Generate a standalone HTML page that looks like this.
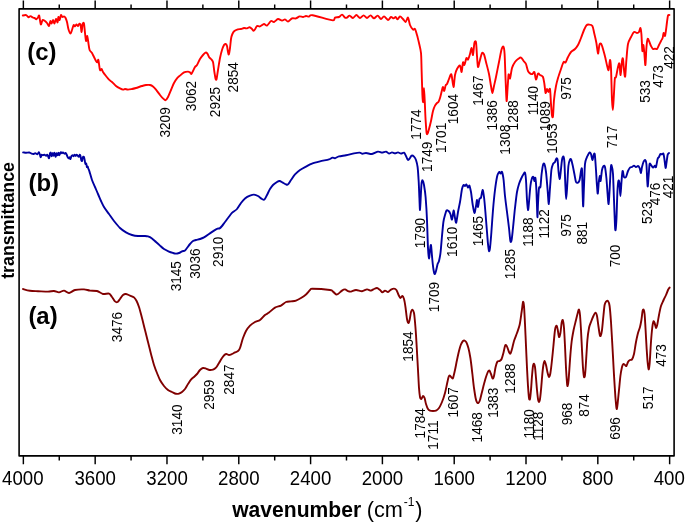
<!DOCTYPE html>
<html lang="en">
<head>
<meta charset="utf-8">
<title>FTIR spectra</title>
<style>
html,body{margin:0;padding:0;background:#ffffff;}
body{width:685px;height:522px;overflow:hidden;position:relative;font-family:"Liberation Sans",sans-serif;}
</style>
</head>
<body>
<svg width="685" height="522" viewBox="0 0 685 522" style="display:block;position:absolute;left:0;top:0">
<rect x="0" y="0" width="685" height="522" fill="#ffffff"/>
<path d="M23.36 8.85 V0.40 M23.36 455.90 V464.20 M59.26 8.85 V4.60 M59.26 455.90 V460.50 M95.17 8.85 V0.40 M95.17 455.90 V464.20 M131.07 8.85 V4.60 M131.07 455.90 V460.50 M166.98 8.85 V0.40 M166.98 455.90 V464.20 M202.88 8.85 V4.60 M202.88 455.90 V460.50 M238.78 8.85 V0.40 M238.78 455.90 V464.20 M274.69 8.85 V4.60 M274.69 455.90 V460.50 M310.59 8.85 V0.40 M310.59 455.90 V464.20 M346.49 8.85 V4.60 M346.49 455.90 V460.50 M382.40 8.85 V0.40 M382.40 455.90 V464.20 M418.30 8.85 V4.60 M418.30 455.90 V460.50 M454.21 8.85 V0.40 M454.21 455.90 V464.20 M490.11 8.85 V4.60 M490.11 455.90 V460.50 M526.01 8.85 V0.40 M526.01 455.90 V464.20 M561.92 8.85 V4.60 M561.92 455.90 V460.50 M597.82 8.85 V0.40 M597.82 455.90 V464.20 M633.72 8.85 V4.60 M633.72 455.90 V460.50 M669.63 8.85 V0.40 M669.63 455.90 V464.20" stroke="#000" stroke-width="1.45" fill="none"/>
<rect x="19.10" y="8.85" width="655.00" height="447.05" fill="none" stroke="#000" stroke-linejoin="round" stroke-width="1.60"/>
<path d="M22.8 15.5 C23.3 15.4 25.4 14.9 26.2 15.1 C27.0 15.3 27.8 17.1 28.4 17.2 C29.0 17.3 30.0 16.1 30.6 16.1 C31.2 16.1 32.2 17.2 32.8 17.5 C33.4 17.8 34.0 17.8 34.5 18.0 C35.0 18.2 35.8 19.3 36.3 19.2 C36.8 19.1 37.6 18.0 38.0 17.5 C38.4 17.0 38.8 14.6 39.2 15.6 C39.6 16.6 40.3 23.8 40.8 24.4 C41.3 25.0 42.0 20.5 42.6 20.0 C43.2 19.5 44.4 20.6 45.0 21.0 C45.6 21.4 46.4 22.3 47.0 23.0 C47.6 23.7 48.5 26.3 49.0 26.0 C49.5 25.7 50.0 21.3 50.4 21.0 C50.8 20.7 51.2 23.7 51.6 23.6 C52.0 23.5 52.6 20.0 53.0 20.0 C53.4 20.0 54.0 23.7 54.4 23.6 C54.8 23.5 55.5 19.2 56.0 19.0 C56.5 18.8 57.3 22.7 57.6 22.4 C57.9 22.1 58.1 17.3 58.4 17.0 C58.7 16.7 59.2 20.3 59.6 20.0 C60.0 19.7 60.6 15.4 61.0 15.0 C61.4 14.6 62.0 16.8 62.4 17.0 C62.8 17.2 63.5 16.3 64.0 16.4 C64.5 16.5 65.2 17.2 65.6 18.0 C66.0 18.8 66.6 20.4 67.0 22.0 C67.4 23.6 67.9 27.3 68.4 29.0 C68.9 30.7 69.9 33.5 70.4 33.6 C70.9 33.7 71.5 31.2 72.0 30.0 C72.5 28.8 73.2 25.5 73.6 25.0 C74.0 24.5 74.6 26.5 75.0 26.4 C75.4 26.3 76.0 24.5 76.4 24.4 C76.8 24.3 77.6 26.1 78.0 26.0 C78.4 25.9 79.0 23.7 79.4 23.6 C79.8 23.5 80.3 23.8 80.6 25.0 C80.9 26.2 81.3 32.1 81.6 32.0 C81.9 31.9 82.3 25.2 82.6 24.0 C82.9 22.8 83.7 22.3 84.0 23.6 C84.3 24.9 84.7 30.5 85.0 33.0 C85.3 35.5 85.7 40.6 86.0 41.0 C86.3 41.4 86.9 35.7 87.2 36.0 C87.5 36.3 88.1 41.0 88.4 43.0 C88.7 45.0 89.1 48.6 89.6 50.0 C90.1 51.4 91.4 52.0 92.0 53.0 C92.6 54.0 93.4 55.9 94.0 57.0 C94.6 58.1 95.5 60.2 96.0 61.0 C96.5 61.8 97.1 62.5 97.4 62.4 C97.7 62.3 98.0 58.9 98.4 60.0 C98.8 61.1 99.5 68.7 100.0 70.0 C100.5 71.3 101.2 68.7 101.6 69.0 C102.0 69.3 102.4 71.0 103.0 72.0 C103.6 73.0 105.1 74.9 106.0 76.0 C106.9 77.1 108.1 78.7 109.0 79.6 C109.9 80.5 111.0 81.1 112.0 82.0 C113.0 82.9 114.9 85.1 116.0 86.0 C117.1 86.9 119.0 87.9 120.0 88.4 C121.0 88.9 122.3 89.5 123.0 89.6 C123.7 89.7 124.3 89.0 125.0 89.0 C125.7 89.0 127.0 89.6 128.0 89.6 C129.0 89.6 130.9 89.2 132.0 89.0 C133.1 88.8 134.6 88.4 136.0 88.0 C137.4 87.6 140.6 86.4 142.0 86.0 C143.4 85.6 144.9 85.1 146.0 85.0 C147.1 84.9 149.0 84.8 150.0 85.0 C151.0 85.2 152.1 85.7 153.0 86.4 C153.9 87.1 155.0 88.4 156.0 89.6 C157.0 90.8 159.0 93.7 160.0 95.0 C161.0 96.3 162.2 97.7 163.0 98.4 C163.8 99.1 164.9 100.4 165.6 100.2 C166.3 100.0 167.2 98.5 168.0 97.0 C168.8 95.5 170.1 92.0 171.0 90.0 C171.9 88.0 173.1 84.7 174.0 83.0 C174.9 81.3 176.1 79.5 177.0 78.4 C177.9 77.3 179.0 76.5 180.0 75.6 C181.0 74.7 182.9 73.0 184.0 72.4 C185.1 71.8 187.1 71.6 188.0 71.6 C188.9 71.6 189.5 72.1 190.0 72.4 C190.5 72.7 191.0 74.2 191.4 74.0 C191.8 73.8 192.5 72.0 193.0 71.0 C193.5 70.0 194.4 67.9 195.0 67.0 C195.6 66.1 196.3 66.1 197.0 65.0 C197.7 63.9 199.1 60.4 200.0 59.0 C200.9 57.6 202.2 55.9 203.0 55.0 C203.8 54.1 205.0 52.8 205.6 52.6 C206.2 52.4 206.9 53.0 207.4 53.6 C207.9 54.2 208.5 56.2 209.0 57.0 C209.5 57.8 210.4 58.3 211.0 59.0 C211.6 59.7 212.5 60.1 213.0 62.0 C213.5 63.9 214.0 69.6 214.4 72.0 C214.8 74.4 215.3 78.0 215.6 79.0 C215.9 80.0 216.3 80.3 216.6 79.0 C216.9 77.7 217.5 73.0 218.0 70.0 C218.5 67.0 219.4 60.9 220.0 58.0 C220.6 55.1 221.4 51.9 222.0 50.0 C222.6 48.1 223.5 45.9 224.0 45.0 C224.5 44.1 225.2 43.9 225.6 44.0 C226.0 44.1 226.7 44.9 227.0 46.0 C227.3 47.1 227.7 50.8 228.0 52.0 C228.3 53.2 228.5 55.0 228.8 54.4 C229.1 53.8 229.7 50.2 230.0 48.0 C230.3 45.8 230.7 41.0 231.0 39.0 C231.3 37.0 231.9 35.1 232.4 34.0 C232.9 32.9 233.6 31.7 234.4 31.0 C235.2 30.3 237.1 29.7 238.0 29.4 C238.9 29.1 240.1 29.2 241.0 29.0 C241.9 28.8 243.1 28.1 244.0 28.0 C244.9 27.9 246.2 28.5 247.0 28.4 C247.8 28.3 248.9 27.1 249.6 27.2 C250.3 27.3 251.4 28.5 252.0 29.0 C252.6 29.5 253.1 30.8 253.6 30.8 C254.1 30.8 254.7 29.7 255.2 29.0 C255.7 28.3 256.3 26.4 257.0 26.0 C257.7 25.6 259.0 26.7 260.0 26.4 C261.0 26.1 263.0 24.1 264.0 24.0 C265.0 23.9 266.0 26.0 267.0 25.6 C268.0 25.2 270.0 21.5 271.0 21.0 C272.0 20.5 273.0 22.3 274.0 22.0 C275.0 21.7 276.9 19.2 278.0 19.0 C279.1 18.8 281.0 20.5 282.0 20.6 C283.0 20.7 284.1 19.3 285.0 19.4 C285.9 19.5 287.0 21.7 288.0 21.6 C289.0 21.5 290.9 18.9 292.0 18.4 C293.1 17.9 294.9 18.7 296.0 18.4 C297.1 18.1 298.6 16.6 299.6 16.4 C300.6 16.2 302.1 17.1 303.0 17.0 C303.9 16.9 305.1 16.1 306.0 16.0 C306.9 15.9 308.1 16.7 309.0 16.6 C309.9 16.5 309.2 14.7 312.6 15.2 C316.0 15.7 329.8 20.1 333.0 20.4 C335.0 20.7 334.1 18.1 335.0 17.6 C335.9 17.1 338.0 17.4 339.0 17.0 C340.0 16.6 341.1 14.5 342.0 14.6 C342.9 14.7 344.3 17.2 345.0 17.6 C345.7 18.0 346.3 17.9 347.0 17.6 C347.7 17.3 348.7 15.5 349.6 15.6 C350.5 15.7 352.0 18.1 353.0 18.0 C354.0 17.9 355.4 15.0 356.4 15.0 C357.4 15.0 359.0 17.9 360.0 18.0 C361.0 18.1 362.6 15.4 363.6 15.4 C364.6 15.4 366.0 18.0 367.0 18.0 C368.0 18.0 369.6 15.3 370.6 15.4 C371.6 15.5 373.0 18.4 374.0 18.4 C375.0 18.4 376.6 15.5 377.6 15.6 C378.6 15.7 380.1 18.9 381.0 19.0 C381.9 19.1 383.0 16.3 384.0 16.4 C385.0 16.5 387.0 19.9 388.0 20.0 C389.0 20.1 390.2 17.2 391.0 17.0 C391.8 16.8 392.9 18.4 393.6 18.4 C394.3 18.4 395.0 16.9 395.6 17.0 C396.2 17.1 397.0 19.5 397.6 19.4 C398.2 19.3 399.2 16.5 400.0 16.4 C400.8 16.3 402.2 18.2 403.0 19.0 C403.8 19.8 404.9 22.2 405.6 22.0 C406.3 21.8 407.4 17.2 408.0 17.6 C408.6 18.0 409.3 23.3 410.0 25.0 C410.7 26.7 412.3 29.0 413.0 29.6 C413.7 30.2 414.4 28.2 415.0 29.0 C415.6 29.8 416.4 33.0 417.0 35.0 C417.6 37.0 418.4 40.4 419.0 43.0 C419.6 45.6 420.6 49.1 421.0 53.0 C421.4 56.9 421.4 64.0 421.6 70.0 C421.8 76.0 422.2 90.4 422.4 95.0 C422.6 99.6 423.0 103.0 423.2 102.0 C423.4 101.0 423.8 88.0 424.0 88.0 C424.2 88.0 424.6 97.4 424.8 102.0 C425.0 106.6 425.3 115.6 425.6 120.0 C425.9 124.4 426.3 131.1 426.6 133.0 C426.9 134.9 427.3 134.2 427.6 133.6 C427.9 133.0 428.5 130.8 429.0 129.0 C429.5 127.2 430.4 123.6 431.0 121.0 C431.6 118.4 432.4 113.2 433.0 111.0 C433.6 108.8 434.4 106.7 435.0 105.6 C435.6 104.5 436.5 103.5 437.0 103.0 C437.5 102.5 438.0 102.7 438.4 102.0 C438.8 101.3 439.5 99.7 440.0 98.0 C440.5 96.3 441.6 91.6 442.0 90.0 C442.4 88.4 442.7 86.9 443.0 87.0 C443.3 87.1 443.8 91.2 444.2 91.0 C444.6 90.8 445.2 86.5 445.6 85.5 C446.0 84.5 446.5 84.9 447.0 84.0 C447.5 83.1 448.4 80.4 449.0 79.0 C449.6 77.6 450.8 73.3 451.4 74.4 C452.0 75.5 453.0 86.9 453.5 87.0 C454.0 87.1 454.5 77.6 455.0 75.0 C455.5 72.4 456.3 70.3 457.0 69.0 C457.7 67.7 459.3 65.2 460.0 65.6 C460.7 66.0 461.2 72.5 461.6 72.0 C462.0 71.5 462.6 63.4 463.0 62.4 C463.4 61.4 463.9 65.6 464.4 65.0 C464.9 64.4 465.9 58.8 466.4 58.0 C466.9 57.2 467.5 60.2 468.0 59.6 C468.5 59.0 469.5 55.7 470.0 54.0 C470.5 52.3 471.2 47.9 471.6 48.0 C472.0 48.1 472.6 55.7 473.0 55.0 C473.4 54.3 474.0 44.8 474.4 43.0 C474.8 41.2 475.6 40.5 476.0 42.4 C476.4 44.3 476.7 52.5 477.0 56.0 C477.3 59.5 477.6 66.4 478.0 67.0 C478.4 67.6 479.4 62.0 480.0 60.0 C480.6 58.0 481.4 53.8 482.0 53.0 C482.6 52.2 483.4 53.1 484.0 54.4 C484.6 55.7 485.3 59.2 486.0 62.0 C486.7 64.8 488.3 70.6 489.0 74.0 C489.7 77.4 490.5 83.3 491.0 86.0 C491.5 88.7 492.0 93.0 492.4 93.0 C492.8 93.0 493.5 88.3 494.0 86.0 C494.5 83.7 495.3 80.4 496.0 77.0 C496.7 73.6 498.2 65.9 499.0 62.0 C499.8 58.1 500.8 52.2 501.4 50.0 C502.0 47.8 502.9 46.0 503.4 46.6 C503.9 47.2 504.3 49.2 504.6 54.0 C504.9 58.8 505.3 73.3 505.6 80.0 C505.9 86.7 506.3 99.9 506.6 101.0 C506.9 102.1 507.3 91.8 507.6 88.0 C507.9 84.2 508.3 75.9 508.6 74.5 C508.9 73.1 509.5 79.4 510.0 78.5 C510.5 77.6 511.3 70.4 512.0 68.0 C512.7 65.6 514.1 63.3 515.0 62.0 C515.9 60.7 517.1 59.6 518.0 59.0 C518.9 58.4 520.2 57.3 521.0 57.6 C521.8 57.9 522.9 60.1 523.6 61.0 C524.3 61.9 525.4 62.6 526.0 64.0 C526.6 65.4 527.4 69.7 528.0 71.0 C528.6 72.3 529.4 73.0 530.0 73.4 C530.6 73.8 531.8 74.2 532.4 74.0 C533.0 73.8 533.9 71.2 534.4 72.0 C534.9 72.8 535.5 79.4 536.0 79.6 C536.5 79.8 537.4 74.3 538.0 73.6 C538.6 72.9 539.3 74.5 540.0 75.0 C540.7 75.5 542.4 75.7 543.0 77.0 C543.6 78.3 544.0 81.7 544.4 84.0 C544.8 86.3 545.2 92.3 545.6 93.0 C546.0 93.7 546.6 89.1 547.0 89.0 C547.4 88.9 548.0 92.0 548.4 92.0 C548.8 92.0 549.6 87.3 550.0 89.0 C550.4 90.7 550.7 100.2 551.0 104.0 C551.3 107.8 551.7 113.9 552.0 115.6 C552.3 117.3 552.7 118.2 553.0 116.0 C553.3 113.8 553.6 104.3 554.0 100.0 C554.4 95.7 555.4 89.1 556.0 86.0 C556.6 82.9 557.3 80.4 558.0 78.0 C558.7 75.6 560.2 71.3 561.0 69.0 C561.8 66.7 562.9 62.9 563.6 62.0 C564.3 61.1 565.0 63.1 565.6 62.4 C566.2 61.7 567.2 58.5 568.0 57.0 C568.8 55.5 570.0 53.1 571.0 52.0 C572.0 50.9 574.0 50.0 575.0 49.0 C576.0 48.0 577.1 46.6 578.0 45.0 C578.9 43.4 580.1 40.1 581.0 38.0 C581.9 35.9 583.2 31.8 584.0 30.0 C584.8 28.2 585.7 26.2 586.4 25.4 C587.1 24.6 588.1 24.5 589.0 24.6 C589.9 24.7 591.6 24.7 592.4 26.0 C593.2 27.3 593.8 31.6 594.4 34.0 C595.0 36.4 595.9 40.2 596.4 43.0 C596.9 45.8 597.6 53.3 598.0 53.6 C598.4 53.9 599.0 46.4 599.4 45.0 C599.8 43.6 600.5 43.0 601.0 43.6 C601.5 44.2 602.4 46.9 603.0 49.0 C603.6 51.1 604.8 55.4 605.4 58.0 C606.0 60.6 606.9 65.3 607.4 67.0 C607.9 68.7 608.2 71.0 608.6 70.0 C609.0 69.0 609.7 60.3 610.0 60.0 C610.3 59.7 610.7 62.3 611.0 68.0 C611.3 73.7 611.7 94.0 612.0 100.0 C612.3 106.0 612.6 110.0 612.8 110.0 C613.0 110.0 613.3 104.4 613.6 100.0 C613.9 95.6 614.5 82.3 614.8 79.0 C615.1 75.7 615.5 78.7 616.0 77.0 C616.5 75.3 617.5 68.9 618.0 67.0 C618.5 65.1 619.0 62.5 619.4 63.6 C619.8 64.7 620.2 75.4 620.6 75.0 C621.0 74.6 621.7 63.3 622.0 61.0 C622.3 58.7 622.7 57.4 623.0 59.0 C623.3 60.6 623.9 69.5 624.2 72.0 C624.5 74.5 624.9 78.1 625.2 76.4 C625.5 74.7 626.0 64.6 626.4 60.0 C626.8 55.4 627.3 47.3 628.0 44.0 C628.7 40.7 630.1 38.7 631.0 37.0 C631.9 35.3 633.1 32.6 634.0 32.0 C634.9 31.4 636.3 33.0 637.0 33.0 C637.7 33.0 638.5 32.7 639.0 32.0 C639.5 31.3 640.1 27.7 640.4 28.0 C640.7 28.3 641.1 30.7 641.4 34.0 C641.7 37.3 642.1 49.4 642.4 51.0 C642.7 52.6 643.1 44.6 643.4 45.0 C643.7 45.4 644.1 51.1 644.4 54.0 C644.7 56.9 645.1 65.9 645.4 65.0 C645.7 64.1 646.1 51.7 646.4 48.0 C646.7 44.3 647.2 40.0 647.6 39.0 C648.0 38.0 648.5 40.0 649.0 41.0 C649.5 42.0 650.4 44.9 651.0 46.0 C651.6 47.1 652.4 48.6 653.0 49.0 C653.6 49.4 654.4 48.6 655.0 48.6 C655.6 48.6 656.4 49.5 657.0 49.0 C657.6 48.5 658.4 46.1 659.0 45.0 C659.6 43.9 660.5 42.0 661.0 41.0 C661.5 40.0 662.2 39.1 662.6 38.0 C663.0 36.9 663.3 33.3 663.6 33.0 C663.9 32.7 664.7 36.4 665.0 36.0 C665.3 35.6 665.7 32.0 666.0 30.0 C666.3 28.0 666.7 24.1 667.0 22.0 C667.3 19.9 667.7 16.6 668.0 15.6 C668.3 14.6 669.2 15.1 669.4 15.0" fill="none" stroke="#ff0000" stroke-width="1.9" stroke-linejoin="round" stroke-linecap="round"/>
<path d="M23.1 152.4 C23.5 152.4 25.2 152.7 26.1 152.7 C27.0 152.7 28.5 152.4 29.2 152.5 C29.9 152.6 30.6 153.2 31.2 153.4 C31.8 153.6 32.7 154.0 33.3 154.0 C33.9 154.0 34.7 153.2 35.3 153.2 C35.9 153.2 36.9 154.3 37.4 154.2 C37.9 154.1 38.5 152.1 38.9 152.2 C39.3 152.3 39.6 154.0 39.9 154.7 C40.2 155.4 40.4 157.3 40.7 157.3 C41.0 157.3 41.4 155.0 41.7 154.7 C42.0 154.4 42.6 155.2 43.0 155.2 C43.4 155.2 44.1 154.6 44.5 154.7 C44.9 154.8 45.7 155.7 46.1 155.7 C46.5 155.7 46.8 154.6 47.1 154.7 C47.4 154.8 47.8 155.7 48.1 156.2 C48.4 156.7 48.8 158.7 49.1 158.3 C49.4 157.9 49.7 154.5 49.9 153.7 C50.1 152.9 50.5 152.3 50.7 152.7 C50.9 153.1 51.2 156.1 51.5 156.2 C51.8 156.3 52.2 153.3 52.5 153.2 C52.8 153.1 53.2 155.8 53.5 155.7 C53.8 155.6 54.2 152.5 54.5 152.7 C54.8 152.9 55.3 156.7 55.6 156.8 C55.9 156.9 56.3 153.4 56.6 153.2 C56.9 153.0 57.3 155.3 57.6 155.2 C57.9 155.1 58.4 152.7 58.6 152.7 C58.8 152.7 59.0 155.3 59.3 155.2 C59.6 155.1 60.3 152.5 60.7 152.2 C61.1 151.9 61.6 153.2 61.9 153.2 C62.2 153.2 62.5 152.3 62.9 152.4 C63.3 152.5 64.1 153.6 64.5 153.7 C64.9 153.8 65.2 152.9 65.5 153.0 C65.8 153.1 66.2 153.7 66.5 154.2 C66.8 154.7 67.2 156.2 67.5 156.8 C67.8 157.4 68.2 158.2 68.5 158.3 C68.8 158.4 69.3 157.2 69.6 157.3 C69.9 157.4 70.1 159.3 70.4 159.1 C70.7 158.9 71.1 156.8 71.4 156.2 C71.7 155.6 72.3 155.2 72.6 155.2 C72.9 155.2 73.3 156.3 73.6 156.2 C73.9 156.1 74.4 154.7 74.7 154.7 C75.0 154.7 75.4 156.0 75.7 156.0 C76.0 156.0 76.4 154.7 76.7 154.7 C77.0 154.7 77.4 155.4 77.7 155.7 C78.0 156.0 78.5 156.9 78.8 156.8 C79.1 156.7 79.6 154.8 79.8 154.7 C80.0 154.6 80.3 155.4 80.5 156.2 C80.7 157.0 81.1 159.6 81.3 160.3 C81.5 161.0 81.9 161.2 82.1 160.8 C82.3 160.4 82.5 157.9 82.8 157.3 C83.1 156.7 83.6 156.4 83.9 156.8 C84.2 157.2 84.5 159.3 84.7 160.3 C84.9 161.3 85.2 163.5 85.4 163.9 C85.6 164.3 86.0 163.0 86.2 163.4 C86.4 163.8 86.7 166.6 86.9 167.0 C87.1 167.4 87.5 166.2 87.7 166.5 C87.9 166.8 88.2 168.3 88.5 169.0 C88.8 169.7 89.0 170.0 89.5 171.6 C90.0 173.2 91.2 177.8 92.0 180.0 C92.8 182.2 94.1 185.0 95.0 187.0 C95.9 189.0 97.1 192.0 98.0 194.0 C98.9 196.0 100.1 199.1 101.0 201.0 C101.9 202.9 102.9 205.1 104.0 207.0 C105.1 208.9 107.6 212.0 109.0 214.0 C110.4 216.0 112.4 219.0 114.0 221.0 C115.6 223.0 118.3 226.4 120.0 228.0 C121.7 229.6 124.3 231.4 126.0 232.4 C127.7 233.4 130.3 234.5 132.0 235.0 C133.7 235.5 136.3 235.9 138.0 236.0 C139.7 236.1 142.6 235.9 144.0 236.0 C145.4 236.1 146.9 236.1 148.0 236.4 C149.1 236.7 150.9 237.6 152.0 238.4 C153.1 239.2 154.9 241.0 156.0 242.0 C157.1 243.0 158.9 244.6 160.0 245.6 C161.1 246.6 162.7 248.1 164.0 249.0 C165.3 249.9 167.7 251.0 169.0 251.6 C170.3 252.2 172.0 252.7 173.0 253.0 C174.0 253.3 175.1 253.6 176.0 253.6 C176.9 253.6 178.1 253.3 179.0 253.0 C179.9 252.7 181.1 251.8 182.0 251.4 C182.9 251.0 184.3 250.9 185.0 250.4 C185.7 249.9 186.3 248.9 187.0 248.0 C187.7 247.1 189.1 245.0 190.0 244.0 C190.9 243.0 192.1 241.6 193.0 241.0 C193.9 240.4 195.0 240.3 196.0 240.0 C197.0 239.7 198.9 239.4 200.0 239.0 C201.1 238.6 202.7 238.1 204.0 237.4 C205.3 236.7 207.6 235.0 209.0 234.0 C210.4 233.0 212.8 231.4 214.0 230.6 C215.2 229.8 216.8 228.9 217.6 228.6 C218.4 228.3 219.0 228.8 219.6 228.4 C220.2 228.0 221.2 226.9 222.0 226.0 C222.8 225.1 224.1 223.1 225.0 222.0 C225.9 220.9 227.1 219.1 228.0 218.0 C228.9 216.9 230.3 214.9 231.0 214.0 C231.7 213.1 232.1 212.7 233.0 212.0 C233.9 211.3 235.9 210.3 237.0 209.0 C238.1 207.7 239.9 204.5 241.0 203.0 C242.1 201.5 243.7 199.5 245.0 198.4 C246.3 197.3 248.7 196.1 250.0 195.6 C251.3 195.1 252.9 194.5 254.0 194.6 C255.1 194.7 256.9 195.4 258.0 196.0 C259.1 196.6 261.1 198.5 262.0 199.0 C262.9 199.5 263.7 200.2 264.4 199.6 C265.1 199.0 266.2 196.5 267.0 195.0 C267.8 193.5 269.1 190.4 270.0 189.0 C270.9 187.6 272.0 186.0 273.0 185.0 C274.0 184.0 276.1 182.6 277.0 182.0 C277.9 181.4 278.8 180.9 279.6 181.0 C280.4 181.1 281.5 181.9 282.4 182.4 C283.3 182.9 285.2 184.1 286.0 184.4 C286.8 184.7 287.3 185.0 288.0 184.4 C288.7 183.8 290.0 181.4 291.0 180.0 C292.0 178.6 293.7 175.8 295.0 174.4 C296.3 173.0 298.4 171.1 300.0 170.0 C301.6 168.9 304.3 167.5 306.0 166.6 C307.7 165.7 310.0 164.3 312.0 163.6 C314.0 162.9 317.6 162.0 320.0 161.4 C322.4 160.8 327.2 159.9 329.0 159.4 C330.8 158.9 331.5 157.8 332.4 157.6 C333.3 157.4 334.1 158.4 335.0 158.2 C335.9 158.0 337.4 156.8 339.0 156.4 C340.6 156.0 343.9 155.6 346.0 155.2 C348.1 154.8 352.1 153.8 354.0 153.4 C355.9 153.0 358.4 152.5 359.6 152.6 C360.8 152.7 361.5 153.7 362.4 153.8 C363.3 153.9 364.6 153.0 366.0 153.0 C367.4 153.0 370.3 154.2 372.0 154.0 C373.7 153.8 376.6 151.8 378.0 151.6 C379.4 151.4 380.9 152.6 382.0 152.6 C383.1 152.6 385.0 151.5 386.0 151.6 C387.0 151.7 388.1 153.5 389.0 153.6 C389.9 153.7 391.1 152.4 392.0 152.4 C392.9 152.4 394.1 153.4 395.0 153.4 C395.9 153.4 397.1 152.4 398.0 152.4 C398.9 152.4 400.1 153.6 401.0 153.6 C401.9 153.6 403.3 152.3 404.0 152.6 C404.7 152.9 405.4 154.9 406.0 156.0 C406.6 157.1 407.4 159.7 408.0 160.0 C408.6 160.3 409.5 158.6 410.0 158.0 C410.5 157.4 411.0 155.8 411.6 155.6 C412.2 155.4 413.4 156.0 414.0 156.6 C414.6 157.2 415.5 158.5 416.0 160.0 C416.5 161.5 417.2 164.1 417.6 167.0 C418.0 169.9 418.3 175.6 418.6 180.0 C418.9 184.4 419.2 193.7 419.4 198.0 C419.6 202.3 419.8 210.3 420.0 210.0 C420.2 209.7 420.6 199.9 420.8 196.0 C421.0 192.1 421.3 185.2 421.6 183.0 C421.9 180.8 422.3 180.1 422.6 180.4 C422.9 180.7 423.6 182.6 424.0 185.0 C424.4 187.4 425.2 192.0 425.6 197.0 C426.0 202.0 426.7 212.7 427.0 220.0 C427.3 227.3 427.7 242.5 428.0 248.0 C428.3 253.5 428.7 258.1 429.0 258.4 C429.3 258.7 429.7 251.9 430.0 250.0 C430.3 248.1 430.7 244.1 431.0 245.0 C431.3 245.9 431.7 252.6 432.0 256.0 C432.3 259.4 433.0 266.4 433.4 269.0 C433.8 271.6 434.2 273.7 434.6 274.0 C435.0 274.3 435.6 272.4 436.0 271.0 C436.4 269.6 437.2 265.4 437.6 264.0 C438.0 262.6 438.6 262.7 439.0 261.0 C439.4 259.3 440.2 255.6 440.6 252.0 C441.0 248.4 441.6 240.3 442.0 236.0 C442.4 231.7 443.0 225.0 443.4 222.0 C443.8 219.0 444.5 216.7 445.0 215.0 C445.5 213.3 446.1 211.0 446.6 210.4 C447.1 209.8 448.1 210.5 448.6 211.0 C449.1 211.5 449.9 212.8 450.4 214.0 C450.9 215.2 451.5 220.1 452.0 219.6 C452.5 219.1 453.2 210.6 453.6 210.4 C454.0 210.2 454.6 216.3 455.0 218.0 C455.4 219.7 455.8 223.5 456.2 222.6 C456.6 221.7 457.5 214.9 458.0 212.0 C458.5 209.1 459.4 205.3 460.0 202.0 C460.6 198.7 461.5 191.4 462.0 189.0 C462.5 186.6 463.2 185.4 463.6 185.0 C464.0 184.6 464.6 186.1 465.0 186.0 C465.4 185.9 466.0 184.2 466.4 184.4 C466.8 184.6 467.6 187.4 468.0 187.6 C468.4 187.8 469.0 185.0 469.4 185.6 C469.8 186.2 470.5 189.4 471.0 192.0 C471.5 194.6 472.1 201.0 472.6 204.0 C473.1 207.0 473.9 212.7 474.4 213.0 C474.9 213.3 475.6 207.9 476.0 206.0 C476.4 204.1 476.7 199.9 477.0 200.0 C477.3 200.1 477.7 207.1 478.0 207.0 C478.3 206.9 479.0 200.3 479.4 199.0 C479.8 197.7 480.5 198.9 481.0 197.6 C481.5 196.3 482.2 190.1 482.6 190.0 C483.0 189.9 483.6 193.9 484.0 197.0 C484.4 200.1 485.0 207.0 485.4 212.0 C485.8 217.0 486.6 227.4 487.0 232.0 C487.4 236.6 487.7 241.3 488.0 244.0 C488.3 246.7 488.7 250.4 489.0 251.0 C489.3 251.6 489.7 250.7 490.0 248.0 C490.3 245.3 491.0 237.4 491.4 232.0 C491.8 226.6 492.5 216.0 493.0 210.0 C493.5 204.0 494.4 194.7 495.0 190.0 C495.6 185.3 496.5 179.4 497.0 177.0 C497.5 174.6 498.1 173.7 498.4 173.0 C498.7 172.3 499.1 171.9 499.4 172.0 C499.7 172.1 500.2 173.6 500.6 173.6 C501.0 173.6 501.6 171.1 502.0 172.0 C502.4 172.9 503.2 176.6 503.6 180.0 C504.0 183.4 504.5 191.4 505.0 196.0 C505.5 200.6 506.4 207.4 507.0 212.0 C507.6 216.6 508.5 223.9 509.0 228.0 C509.5 232.1 510.0 239.3 510.4 241.0 C510.8 242.7 511.2 241.9 511.6 240.0 C512.0 238.1 512.5 232.6 513.0 228.0 C513.5 223.4 514.4 213.1 515.0 208.0 C515.6 202.9 516.4 195.4 517.0 192.0 C517.6 188.6 518.4 185.9 519.0 184.0 C519.6 182.1 520.4 180.3 521.0 179.0 C521.6 177.7 522.4 175.9 523.0 175.0 C523.6 174.1 524.6 171.9 525.0 172.6 C525.4 173.3 525.7 176.1 526.0 180.0 C526.3 183.9 526.7 195.7 527.0 200.0 C527.3 204.3 527.7 209.7 528.0 210.0 C528.3 210.3 528.7 205.4 529.0 202.0 C529.3 198.6 530.0 189.4 530.4 186.0 C530.8 182.6 531.6 179.3 532.0 178.0 C532.4 176.7 533.1 176.6 533.4 177.0 C533.7 177.4 534.1 180.9 534.4 181.0 C534.7 181.1 535.1 176.7 535.4 178.0 C535.7 179.3 536.1 184.4 536.4 190.0 C536.7 195.6 537.2 215.0 537.4 217.0 C537.6 219.0 537.8 208.1 538.0 204.0 C538.2 199.9 538.7 190.4 539.0 188.0 C539.3 185.6 540.0 189.0 540.4 187.0 C540.8 185.0 541.2 177.1 541.6 174.0 C542.0 170.9 542.6 166.4 543.0 165.0 C543.4 163.6 544.0 163.0 544.4 164.0 C544.8 165.0 545.5 168.3 546.0 172.0 C546.5 175.7 547.2 185.4 547.6 190.0 C548.0 194.6 548.5 204.3 548.8 204.0 C549.1 203.7 549.6 192.9 550.0 188.0 C550.4 183.1 551.0 173.4 551.4 170.0 C551.8 166.6 552.5 165.1 553.0 164.0 C553.5 162.9 554.5 162.8 555.0 162.0 C555.5 161.2 556.0 158.7 556.4 158.4 C556.8 158.1 557.3 158.1 557.6 160.0 C557.9 161.9 558.3 169.3 558.6 172.0 C558.9 174.7 559.3 178.9 559.6 179.0 C559.9 179.1 560.3 175.7 560.6 173.0 C560.9 170.3 561.6 162.4 562.0 160.0 C562.4 157.6 563.1 156.1 563.4 156.4 C563.7 156.7 564.1 157.8 564.4 162.0 C564.7 166.2 565.1 180.7 565.4 186.0 C565.7 191.3 565.9 199.0 566.2 199.0 C566.5 199.0 566.9 190.7 567.2 186.0 C567.5 181.3 568.0 169.8 568.4 166.0 C568.8 162.2 569.6 160.5 570.0 159.6 C570.4 158.7 570.8 158.8 571.2 159.6 C571.6 160.4 572.1 162.9 572.6 165.0 C573.1 167.1 573.9 171.6 574.4 174.0 C574.9 176.4 575.5 180.8 576.0 182.0 C576.5 183.2 577.5 182.9 578.0 182.6 C578.5 182.3 579.2 181.7 579.6 180.0 C580.0 178.3 580.7 172.5 581.0 171.0 C581.3 169.5 581.8 166.6 582.0 169.6 C582.2 172.6 582.4 186.7 582.6 192.0 C582.8 197.3 583.0 207.3 583.2 206.4 C583.4 205.5 583.7 192.1 584.0 186.0 C584.3 179.9 584.6 168.0 585.0 164.0 C585.4 160.0 586.2 159.3 586.6 158.0 C587.0 156.7 587.6 155.8 588.0 155.0 C588.4 154.2 589.2 152.5 589.6 152.4 C590.0 152.3 590.6 152.9 591.0 154.0 C591.4 155.1 592.0 159.9 592.4 160.0 C592.8 160.1 593.3 155.8 593.6 155.0 C593.9 154.2 594.5 152.3 594.8 154.4 C595.1 156.5 595.7 165.5 596.0 170.0 C596.3 174.5 596.7 182.6 597.0 186.0 C597.3 189.4 597.5 194.2 597.8 193.6 C598.1 193.0 598.5 184.5 598.8 182.0 C599.1 179.5 599.5 176.1 599.8 176.0 C600.1 175.9 600.3 181.9 600.6 181.0 C600.9 180.1 601.6 172.1 602.0 170.0 C602.4 167.9 603.2 166.4 603.6 166.0 C604.0 165.6 604.6 165.3 605.0 167.0 C605.4 168.7 606.0 174.1 606.4 178.0 C606.8 181.9 607.3 190.3 607.6 194.0 C607.9 197.7 608.3 204.6 608.6 204.0 C608.9 203.4 609.3 195.1 609.6 190.0 C609.9 184.9 610.5 171.5 610.8 168.0 C611.1 164.5 611.3 164.7 611.6 165.6 C611.9 166.5 612.7 169.1 613.0 174.0 C613.3 178.9 613.7 192.6 614.0 200.0 C614.3 207.4 614.8 221.7 615.0 226.0 C615.2 230.3 615.4 230.9 615.6 230.0 C615.8 229.1 616.1 225.4 616.4 220.0 C616.7 214.6 617.1 197.6 617.4 192.0 C617.7 186.4 618.1 182.3 618.4 181.0 C618.7 179.7 619.1 180.9 619.4 183.0 C619.7 185.1 620.1 196.0 620.4 196.0 C620.7 196.0 621.1 186.6 621.4 183.0 C621.7 179.4 622.2 171.9 622.6 171.0 C623.0 170.1 623.5 176.1 624.0 177.0 C624.5 177.9 625.4 177.9 626.0 177.0 C626.6 176.1 627.4 172.3 628.0 171.0 C628.6 169.7 629.4 168.2 630.0 167.6 C630.6 167.0 631.4 167.3 632.0 167.0 C632.6 166.7 633.4 165.6 634.0 165.6 C634.6 165.6 635.4 166.9 636.0 167.0 C636.6 167.1 637.5 165.9 638.0 166.0 C638.5 166.1 639.2 167.0 639.6 168.0 C640.0 169.0 640.7 173.1 641.0 173.0 C641.3 172.9 641.6 168.6 642.0 167.0 C642.4 165.4 643.1 162.6 643.6 161.6 C644.1 160.6 644.8 159.7 645.2 160.0 C645.6 160.3 646.1 161.1 646.4 164.0 C646.7 166.9 647.0 176.8 647.2 180.0 C647.4 183.2 647.6 187.0 647.8 186.4 C648.0 185.8 648.3 179.2 648.6 176.0 C648.9 172.8 649.3 165.6 649.6 164.0 C649.9 162.4 650.5 164.5 651.0 165.0 C651.5 165.5 652.4 167.5 653.0 167.6 C653.6 167.7 654.6 165.7 655.0 165.6 C655.4 165.5 655.6 167.9 656.0 167.0 C656.4 166.1 657.2 160.4 657.6 159.0 C658.0 157.6 658.6 157.7 659.0 157.0 C659.4 156.3 660.0 154.4 660.4 154.0 C660.8 153.6 661.6 154.5 662.0 154.4 C662.4 154.3 663.1 152.9 663.4 153.6 C663.7 154.3 664.1 156.9 664.4 159.0 C664.7 161.1 665.3 167.6 665.6 168.0 C665.9 168.4 666.3 163.9 666.6 162.0 C666.9 160.1 667.3 156.3 667.6 155.0 C667.9 153.7 668.8 153.3 669.0 153.0" fill="none" stroke="#0000a0" stroke-width="1.9" stroke-linejoin="round" stroke-linecap="round"/>
<path d="M23.0 289.0 C24.0 289.3 27.9 290.5 30.0 290.8 C32.1 291.1 35.4 291.1 38.0 291.2 C40.6 291.3 45.7 291.6 48.0 291.6 C50.3 291.6 52.4 290.9 54.0 291.0 C55.6 291.1 57.6 292.5 59.0 292.4 C60.4 292.3 62.6 290.5 64.0 290.6 C65.4 290.7 67.4 293.1 69.0 293.0 C70.6 292.9 72.9 290.5 75.0 290.0 C77.1 289.5 81.9 289.3 84.0 289.4 C86.1 289.5 88.1 290.4 90.0 290.6 C91.9 290.8 95.1 290.5 97.0 291.0 C98.9 291.5 101.3 293.6 103.0 294.0 C104.7 294.4 107.7 293.2 109.0 293.6 C110.3 294.0 111.1 295.9 112.0 297.0 C112.9 298.1 114.2 300.7 115.0 301.4 C115.8 302.1 116.9 302.3 117.6 302.0 C118.3 301.7 119.2 300.0 120.0 299.0 C120.8 298.0 122.1 295.7 123.0 295.0 C123.9 294.3 125.0 293.9 126.0 294.0 C127.0 294.1 128.9 295.1 130.0 295.6 C131.1 296.1 133.1 296.6 134.0 297.4 C134.9 298.2 135.9 299.6 136.6 301.0 C137.3 302.4 138.2 304.6 139.0 307.0 C139.8 309.4 141.1 314.7 142.0 318.0 C142.9 321.3 144.1 326.6 145.0 330.0 C145.9 333.4 147.1 338.6 148.0 342.0 C148.9 345.4 150.1 350.7 151.0 354.0 C151.9 357.3 153.1 362.3 154.0 365.0 C154.9 367.7 156.1 370.9 157.0 373.0 C157.9 375.1 159.0 378.1 160.0 380.0 C161.0 381.9 162.9 384.6 164.0 386.0 C165.1 387.4 166.9 389.1 168.0 390.0 C169.1 390.9 170.9 391.5 172.0 392.0 C173.1 392.5 175.0 393.6 176.0 393.8 C177.0 394.0 178.1 393.9 179.0 393.6 C179.9 393.3 181.1 392.7 182.0 392.0 C182.9 391.3 184.1 390.1 185.0 389.0 C185.9 387.9 187.1 385.3 188.0 384.0 C188.9 382.7 190.1 380.6 191.0 379.6 C191.9 378.6 193.1 377.8 194.0 377.0 C194.9 376.2 196.1 375.0 197.0 374.0 C197.9 373.0 199.1 370.9 200.0 370.0 C200.9 369.1 202.1 368.2 203.0 368.0 C203.9 367.8 205.1 368.3 206.0 368.6 C206.9 368.9 208.6 369.9 209.6 370.0 C210.6 370.1 212.1 369.9 213.0 369.6 C213.9 369.3 215.1 368.5 216.0 367.6 C216.9 366.7 218.1 364.4 219.0 363.0 C219.9 361.6 221.2 359.1 222.0 358.0 C222.8 356.9 223.8 355.6 224.4 355.0 C225.0 354.4 225.7 354.0 226.4 354.0 C227.1 354.0 228.2 355.0 229.0 355.0 C229.8 355.0 231.1 354.4 232.0 354.0 C232.9 353.6 234.1 352.8 235.0 352.4 C235.9 352.0 237.3 351.6 238.0 351.0 C238.7 350.4 239.3 349.9 240.0 348.0 C240.7 346.1 242.1 340.4 243.0 338.0 C243.9 335.6 245.0 332.8 246.0 331.0 C247.0 329.2 248.7 326.9 250.0 325.6 C251.3 324.3 253.6 322.8 255.0 322.0 C256.4 321.2 258.6 321.0 260.0 320.0 C261.4 319.0 263.7 316.1 265.0 315.0 C266.3 313.9 267.6 313.7 269.0 312.6 C270.4 311.5 273.3 308.6 275.0 307.6 C276.7 306.6 279.4 306.4 281.0 305.6 C282.6 304.8 284.6 302.6 286.0 302.0 C287.4 301.4 289.6 301.6 291.0 301.4 C292.4 301.2 294.6 301.1 296.0 300.6 C297.4 300.1 299.6 298.9 301.0 298.0 C302.4 297.1 304.7 295.5 306.0 294.4 C307.3 293.3 309.1 290.8 310.0 290.0 C310.9 289.2 310.0 288.8 312.4 288.8 C315.3 288.8 327.1 289.6 330.0 290.0 C332.9 290.4 332.1 291.0 333.0 291.6 C333.9 292.2 335.3 294.1 336.0 294.4 C336.7 294.7 337.1 294.5 338.0 294.0 C338.9 293.5 341.0 291.3 342.0 290.6 C343.0 289.9 344.1 289.3 345.0 289.4 C345.9 289.5 347.1 290.9 348.0 291.2 C348.9 291.5 349.9 291.8 351.0 291.6 C352.1 291.4 354.4 290.1 356.0 290.0 C357.6 289.9 360.4 291.3 362.0 291.2 C363.6 291.1 365.7 289.5 367.0 289.4 C368.3 289.3 370.0 290.7 371.0 290.6 C372.0 290.5 373.1 289.4 374.0 289.0 C374.9 288.6 376.1 287.9 377.0 288.0 C377.9 288.1 379.2 289.4 380.0 290.0 C380.8 290.6 381.7 292.3 382.4 292.4 C383.1 292.5 384.2 290.7 385.0 290.6 C385.8 290.5 387.1 292.1 388.0 292.0 C388.9 291.9 390.1 290.1 391.0 289.6 C391.9 289.1 393.2 288.5 394.0 288.6 C394.8 288.7 395.7 289.1 396.4 290.0 C397.1 290.9 398.0 293.9 398.6 295.0 C399.2 296.1 399.9 297.9 400.4 298.0 C400.9 298.1 401.9 295.9 402.4 296.0 C402.9 296.1 403.5 297.3 404.0 299.0 C404.5 300.7 405.2 305.1 405.6 308.0 C406.0 310.9 406.6 316.9 407.0 319.0 C407.4 321.1 408.0 322.9 408.4 323.0 C408.8 323.1 409.2 321.6 409.6 320.0 C410.0 318.4 410.6 313.5 411.0 312.0 C411.4 310.5 412.0 309.5 412.4 309.6 C412.8 309.7 413.6 311.2 414.0 313.0 C414.4 314.8 414.7 318.9 415.0 322.0 C415.3 325.1 415.7 330.7 416.0 335.0 C416.3 339.3 416.7 347.0 417.0 352.0 C417.3 357.0 417.7 364.9 418.0 370.0 C418.3 375.1 418.7 384.1 419.0 388.0 C419.3 391.9 419.7 395.4 420.0 397.0 C420.3 398.6 421.0 399.1 421.4 399.0 C421.8 398.9 422.5 396.1 423.0 396.0 C423.5 395.9 424.2 396.9 424.6 398.0 C425.0 399.1 425.5 402.4 426.0 404.0 C426.5 405.6 427.4 408.1 428.0 409.0 C428.6 409.9 429.3 410.3 430.0 410.6 C430.7 410.9 432.1 411.0 433.0 411.0 C433.9 411.0 435.1 411.0 436.0 410.6 C436.9 410.2 438.1 409.2 439.0 408.0 C439.9 406.8 441.1 404.1 442.0 402.0 C442.9 399.9 444.3 395.6 445.0 393.0 C445.7 390.4 446.5 386.3 447.0 384.0 C447.5 381.7 448.2 378.2 448.6 377.0 C449.0 375.8 449.6 375.5 450.0 375.6 C450.4 375.7 451.2 377.3 451.6 377.6 C452.0 377.9 452.5 379.1 453.0 378.0 C453.5 376.9 454.4 372.6 455.0 370.0 C455.6 367.4 456.4 362.7 457.0 360.0 C457.6 357.3 458.4 353.2 459.0 351.0 C459.6 348.8 460.4 345.8 461.0 344.4 C461.6 343.0 462.5 341.5 463.0 341.0 C463.5 340.5 464.1 340.4 464.6 340.6 C465.1 340.8 465.9 341.3 466.4 342.4 C466.9 343.5 467.8 345.8 468.4 348.0 C469.0 350.2 469.8 354.3 470.4 358.0 C471.0 361.7 471.9 369.7 472.4 374.0 C472.9 378.3 473.5 384.6 474.0 388.0 C474.5 391.4 475.2 395.9 475.6 398.0 C476.0 400.1 476.6 401.7 477.0 402.4 C477.4 403.1 478.0 403.3 478.4 403.0 C478.8 402.7 479.5 401.6 480.0 400.0 C480.5 398.4 481.4 394.3 482.0 392.0 C482.6 389.7 483.4 386.1 484.0 384.0 C484.6 381.9 485.4 378.8 486.0 377.0 C486.6 375.2 487.5 372.5 488.0 371.6 C488.5 370.7 489.0 370.3 489.4 370.6 C489.8 370.9 490.5 372.9 491.0 374.0 C491.5 375.1 492.2 378.3 492.6 378.6 C493.0 378.9 493.6 377.7 494.0 376.0 C494.4 374.3 495.1 369.1 495.6 367.0 C496.1 364.9 496.8 362.5 497.4 361.6 C498.0 360.7 499.0 361.4 499.6 361.0 C500.2 360.6 501.1 360.1 501.6 359.0 C502.1 357.9 502.9 354.9 503.4 353.0 C503.9 351.1 504.6 347.1 505.0 346.0 C505.4 344.9 505.7 344.8 506.0 345.0 C506.3 345.2 507.0 346.5 507.4 347.5 C507.8 348.5 508.6 351.1 509.0 352.0 C509.4 352.9 510.0 354.0 510.4 353.6 C510.8 353.2 511.5 350.8 512.0 349.0 C512.5 347.2 513.3 343.3 514.0 341.0 C514.7 338.7 516.2 335.3 517.0 333.0 C517.8 330.7 518.9 328.0 519.6 325.0 C520.3 322.0 521.1 315.3 521.6 312.0 C522.1 308.7 522.7 302.9 523.0 302.0 C523.3 301.1 523.7 302.9 524.0 306.0 C524.3 309.1 524.7 318.3 525.0 324.0 C525.3 329.7 525.7 339.7 526.0 346.0 C526.3 352.3 526.7 362.3 527.0 368.0 C527.3 373.7 527.7 381.7 528.0 386.0 C528.3 390.3 528.7 396.1 529.0 398.0 C529.3 399.9 529.7 400.1 530.0 399.0 C530.3 397.9 530.7 393.3 531.0 390.0 C531.3 386.7 531.7 379.4 532.0 376.0 C532.3 372.6 532.7 367.8 533.0 366.0 C533.3 364.2 533.7 363.5 534.0 363.6 C534.3 363.7 534.7 364.9 535.0 367.0 C535.3 369.1 535.7 374.7 536.0 378.0 C536.3 381.3 536.7 387.0 537.0 390.0 C537.3 393.0 537.7 397.3 538.0 399.0 C538.3 400.7 538.7 402.0 539.0 402.0 C539.3 402.0 539.7 400.7 540.0 399.0 C540.3 397.3 540.7 393.0 541.0 390.0 C541.3 387.0 541.7 381.6 542.0 378.0 C542.3 374.4 543.0 367.4 543.4 365.0 C543.8 362.6 544.2 361.0 544.6 361.0 C545.0 361.0 545.6 363.4 546.0 365.0 C546.4 366.6 547.0 370.3 547.4 372.0 C547.8 373.7 548.6 376.9 549.0 377.0 C549.4 377.1 550.0 375.4 550.4 373.0 C550.8 370.6 551.6 363.9 552.0 360.0 C552.4 356.1 553.0 350.3 553.4 346.0 C553.8 341.7 554.6 332.9 555.0 330.0 C555.4 327.1 556.0 325.7 556.4 325.6 C556.8 325.5 557.2 327.4 557.6 329.0 C558.0 330.6 558.6 336.4 559.0 337.0 C559.4 337.6 560.0 335.0 560.4 333.0 C560.8 331.0 561.3 324.9 561.6 323.0 C561.9 321.1 562.5 319.3 562.8 320.0 C563.1 320.7 563.7 324.3 564.0 328.0 C564.3 331.7 564.7 340.3 565.0 346.0 C565.3 351.7 565.7 362.7 566.0 368.0 C566.3 373.3 566.8 380.4 567.0 383.0 C567.2 385.6 567.4 386.4 567.6 386.0 C567.8 385.6 568.3 383.7 568.6 380.0 C568.9 376.3 569.6 365.4 570.0 360.0 C570.4 354.6 571.1 346.3 571.6 342.0 C572.1 337.7 573.0 333.1 573.6 330.0 C574.2 326.9 575.4 322.6 576.0 320.0 C576.6 317.4 577.6 313.5 578.0 312.0 C578.4 310.5 578.7 309.2 579.0 309.6 C579.3 310.0 579.7 312.1 580.0 315.0 C580.3 317.9 580.7 325.0 581.0 330.0 C581.3 335.0 581.7 344.6 582.0 350.0 C582.3 355.4 582.7 364.1 583.0 368.0 C583.3 371.9 583.7 376.0 584.0 377.0 C584.3 378.0 584.7 377.1 585.0 375.0 C585.3 372.9 585.7 367.0 586.0 362.0 C586.3 357.0 587.0 344.9 587.4 340.0 C587.8 335.1 588.5 330.6 589.0 328.0 C589.5 325.4 590.4 323.7 591.0 322.0 C591.6 320.3 592.8 317.3 593.4 316.0 C594.0 314.7 594.9 312.6 595.4 312.6 C595.9 312.6 596.6 314.1 597.0 316.0 C597.4 317.9 598.0 323.4 598.4 326.0 C598.8 328.6 599.3 332.6 599.6 334.0 C599.9 335.4 600.3 336.6 600.6 336.0 C600.9 335.4 601.6 332.9 602.0 330.0 C602.4 327.1 603.0 319.6 603.4 316.0 C603.8 312.4 604.2 307.1 604.6 305.0 C605.0 302.9 605.5 302.2 606.0 301.6 C606.5 301.0 607.5 300.4 608.0 301.0 C608.5 301.6 609.2 303.0 609.6 306.0 C610.0 309.0 610.6 316.3 611.0 322.0 C611.4 327.7 612.0 339.4 612.4 346.0 C612.8 352.6 613.3 362.0 613.6 368.0 C613.9 374.0 614.5 382.9 614.8 388.0 C615.1 393.1 615.7 401.0 616.0 404.0 C616.3 407.0 616.5 409.3 616.8 409.0 C617.1 408.7 617.5 404.7 617.8 402.0 C618.1 399.3 618.6 393.7 619.0 390.0 C619.4 386.3 620.0 379.3 620.4 376.0 C620.8 372.7 621.6 368.7 622.0 367.0 C622.4 365.3 623.0 364.3 623.4 364.0 C623.8 363.7 624.6 364.7 625.0 365.0 C625.4 365.3 626.0 366.4 626.4 366.0 C626.8 365.6 627.5 362.9 628.0 362.0 C628.5 361.1 629.4 360.4 630.0 360.0 C630.6 359.6 631.4 360.3 632.0 359.4 C632.6 358.5 633.4 356.5 634.0 354.0 C634.6 351.5 635.4 345.0 636.0 342.0 C636.6 339.0 637.4 335.1 638.0 333.0 C638.6 330.9 639.5 328.9 640.0 327.0 C640.5 325.1 641.0 322.3 641.4 320.0 C641.8 317.7 642.3 312.5 642.6 311.0 C642.9 309.5 643.3 309.2 643.6 309.6 C643.9 310.0 644.3 311.1 644.6 314.0 C644.9 316.9 645.3 325.1 645.6 330.0 C645.9 334.9 646.3 343.4 646.6 348.0 C646.9 352.6 647.3 358.9 647.6 362.0 C647.9 365.1 648.3 369.1 648.6 369.4 C648.9 369.7 649.3 367.1 649.6 364.0 C649.9 360.9 650.3 352.9 650.6 348.0 C650.9 343.1 651.6 333.8 652.0 330.0 C652.4 326.2 653.0 322.6 653.4 321.6 C653.8 320.6 654.2 322.1 654.6 323.0 C655.0 323.9 655.6 327.9 656.0 328.0 C656.4 328.1 657.0 325.9 657.4 324.0 C657.8 322.1 658.5 317.6 659.0 315.0 C659.5 312.4 660.3 308.1 661.0 306.0 C661.7 303.9 662.9 301.6 663.6 300.0 C664.3 298.4 665.4 296.4 666.0 295.0 C666.6 293.6 667.5 291.1 668.0 290.0 C668.5 288.9 669.4 287.9 669.6 287.6" fill="none" stroke="#800000" stroke-width="1.9" stroke-linejoin="round" stroke-linecap="round"/>
<g font-family="'Liberation Sans', sans-serif" font-size="19.6" fill="#000" text-anchor="middle">
<text transform="translate(22.8 485.1) scale(0.953 1)">4000</text>
<text transform="translate(95.2 485.1) scale(0.953 1)">3600</text>
<text transform="translate(167.0 485.1) scale(0.953 1)">3200</text>
<text transform="translate(238.8 485.1) scale(0.953 1)">2800</text>
<text transform="translate(310.6 485.1) scale(0.953 1)">2400</text>
<text transform="translate(382.4 485.1) scale(0.953 1)">2000</text>
<text transform="translate(454.2 485.1) scale(0.953 1)">1600</text>
<text transform="translate(526.0 485.1) scale(0.953 1)">1200</text>
<text transform="translate(597.8 485.1) scale(0.953 1)">800</text>
<text transform="translate(669.2 485.1) scale(0.953 1)">400</text>
</g>
<g font-family="'Liberation Sans', sans-serif" font-size="14.6" fill="#000" text-anchor="middle">
<text transform="translate(169.8 122.4) rotate(-90) scale(0.932 1)">3209</text>
<text transform="translate(196.2 96.0) rotate(-90) scale(0.932 1)">3062</text>
<text transform="translate(220.2 102.0) rotate(-90) scale(0.932 1)">2925</text>
<text transform="translate(237.8 77.3) rotate(-90) scale(0.932 1)">2854</text>
<text transform="translate(420.8 124.5) rotate(-90) scale(0.932 1)">1774</text>
<text transform="translate(431.8 156.8) rotate(-90) scale(0.932 1)">1749</text>
<text transform="translate(445.8 137.9) rotate(-90) scale(0.932 1)">1701</text>
<text transform="translate(457.8 109.1) rotate(-90) scale(0.932 1)">1604</text>
<text transform="translate(482.8 90.5) rotate(-90) scale(0.932 1)">1467</text>
<text transform="translate(496.8 115.3) rotate(-90) scale(0.932 1)">1386</text>
<text transform="translate(509.8 139.5) rotate(-90) scale(0.932 1)">1308</text>
<text transform="translate(517.6 115.3) rotate(-90) scale(0.932 1)">1288</text>
<text transform="translate(537.8 100.5) rotate(-90) scale(0.932 1)">1140</text>
<text transform="translate(549.8 116.2) rotate(-90) scale(0.932 1)">1089</text>
<text transform="translate(557.2 138.5) rotate(-90) scale(0.932 1)">1053</text>
<text transform="translate(571.4 88.5) rotate(-90) scale(0.932 1)">975</text>
<text transform="translate(617.1 137.0) rotate(-90) scale(0.932 1)">717</text>
<text transform="translate(650.2 91.5) rotate(-90) scale(0.932 1)">533</text>
<text transform="translate(662.8 76.5) rotate(-90) scale(0.932 1)">473</text>
<text transform="translate(673.8 57.5) rotate(-90) scale(0.932 1)">422</text>
<text transform="translate(180.9 276.2) rotate(-90) scale(0.932 1)">3145</text>
<text transform="translate(200.1 263.6) rotate(-90) scale(0.932 1)">3036</text>
<text transform="translate(222.9 251.8) rotate(-90) scale(0.932 1)">2910</text>
<text transform="translate(424.5 233.0) rotate(-90) scale(0.932 1)">1790</text>
<text transform="translate(438.9 297.0) rotate(-90) scale(0.932 1)">1709</text>
<text transform="translate(456.5 241.8) rotate(-90) scale(0.932 1)">1610</text>
<text transform="translate(482.5 231.0) rotate(-90) scale(0.932 1)">1465</text>
<text transform="translate(515.3 264.0) rotate(-90) scale(0.932 1)">1285</text>
<text transform="translate(532.9 232.0) rotate(-90) scale(0.932 1)">1188</text>
<text transform="translate(548.5 223.8) rotate(-90) scale(0.932 1)">1122</text>
<text transform="translate(570.9 225.5) rotate(-90) scale(0.932 1)">975</text>
<text transform="translate(587.4 233.2) rotate(-90) scale(0.932 1)">881</text>
<text transform="translate(619.9 256.0) rotate(-90) scale(0.932 1)">700</text>
<text transform="translate(651.9 212.7) rotate(-90) scale(0.932 1)">523</text>
<text transform="translate(659.9 194.0) rotate(-90) scale(0.932 1)">476</text>
<text transform="translate(672.9 187.0) rotate(-90) scale(0.932 1)">421</text>
<text transform="translate(121.8 327.0) rotate(-90) scale(0.932 1)">3476</text>
<text transform="translate(181.8 419.6) rotate(-90) scale(0.932 1)">3140</text>
<text transform="translate(214.2 394.7) rotate(-90) scale(0.932 1)">2959</text>
<text transform="translate(234.4 379.6) rotate(-90) scale(0.932 1)">2847</text>
<text transform="translate(412.8 346.5) rotate(-90) scale(0.932 1)">1854</text>
<text transform="translate(425.4 423.3) rotate(-90) scale(0.932 1)">1784</text>
<text transform="translate(438.4 435.1) rotate(-90) scale(0.932 1)">1711</text>
<text transform="translate(457.8 402.3) rotate(-90) scale(0.932 1)">1607</text>
<text transform="translate(482.4 427.3) rotate(-90) scale(0.932 1)">1468</text>
<text transform="translate(497.8 402.7) rotate(-90) scale(0.932 1)">1383</text>
<text transform="translate(514.8 378.5) rotate(-90) scale(0.932 1)">1288</text>
<text transform="translate(533.6 423.8) rotate(-90) scale(0.932 1)">1180</text>
<text transform="translate(543.2 426.2) rotate(-90) scale(0.932 1)">1128</text>
<text transform="translate(572.2 414.0) rotate(-90) scale(0.932 1)">968</text>
<text transform="translate(589.2 405.5) rotate(-90) scale(0.932 1)">874</text>
<text transform="translate(619.8 428.5) rotate(-90) scale(0.932 1)">696</text>
<text transform="translate(652.8 397.8) rotate(-90) scale(0.932 1)">517</text>
<text transform="translate(665.8 355.5) rotate(-90) scale(0.932 1)">473</text>
</g>
<g font-family="'Liberation Sans', sans-serif" font-size="23.9" font-weight="bold" fill="#000">
<text x="27.2" y="60.3">(c)</text>
<text x="28.5" y="190.6">(b)</text>
<text x="28.4" y="324.3">(a)</text>
</g>
<text transform="translate(13.5 220.4) rotate(-90) scale(0.944 1)" font-family="'Liberation Sans', sans-serif" font-size="18.9" font-weight="bold" text-anchor="middle" fill="#000">transmittance</text>
<g font-family="'Liberation Sans', sans-serif" fill="#000">
<text transform="translate(232.2 517.4) scale(0.968 1)" font-size="21.8" font-weight="bold">wavenumber</text>
<text x="366.7" y="517.3" font-size="21.7">(cm</text>
<text x="403.8" y="505.8" font-size="12">-1</text>
<text x="415.2" y="517.3" font-size="21.7">)</text>
</g>
</svg>
</body>
</html>
